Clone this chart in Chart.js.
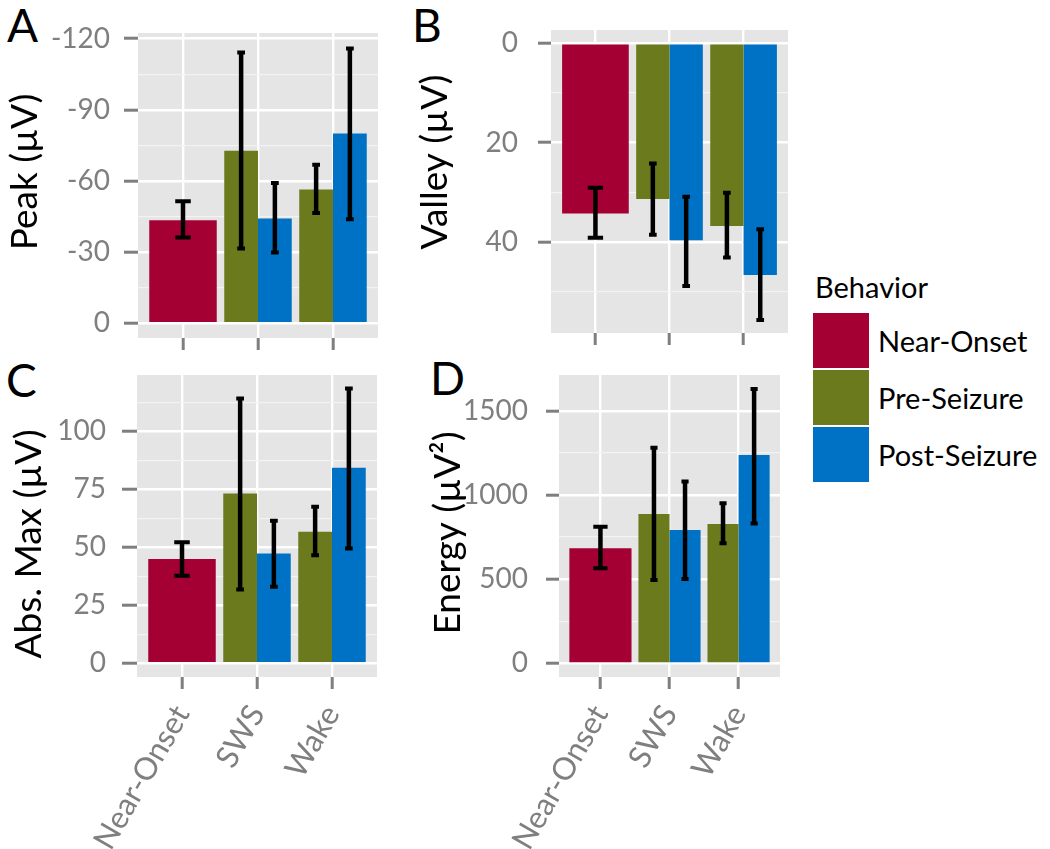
<!DOCTYPE html>
<html>
<head>
<meta charset="utf-8">
<script src="https://cdn.jsdelivr.net/npm/chart.js"></script>
<style>
  body { margin: 0; background: #fff; width: 1050px; height: 849px; position: relative; overflow: hidden; font-family: Lato, sans-serif; }
  .box { position: absolute; }
  .letter { position: absolute; font-size: 46px; line-height: 1; color: #000; }
  #legend { position: absolute; left: 813px; top: 272px; }
  #legend .ttl { font-size: 29px; line-height: 1; margin: 0 0 12px 2px; color: #000; }
  #legend .row { display: flex; align-items: center; height: 55px; margin-bottom: 2px; }
  #legend .key { width: 56px; height: 55px; }
  #legend .lab { font-size: 29px; line-height: 1; margin-left: 9px; color: #000; }
</style>
</head>
<body>

<div class="letter" style="left:7px;top:2px">A</div>
<div class="letter" style="left:412px;top:2px">B</div>
<div class="letter" style="left:6px;top:357px">C</div>
<div class="letter" style="left:430px;top:355px">D</div>

<div class="box" style="left:0;top:0"><canvas id="cA" width="395" height="395"></canvas></div>
<div class="box" style="left:400px;top:0"><canvas id="cB" width="395" height="395"></canvas></div>
<div class="box" style="left:0;top:360px"><canvas id="cC" width="395" height="489"></canvas></div>
<div class="box" style="left:400px;top:360px"><canvas id="cD" width="395" height="489"></canvas></div>

<div id="legend"><div class="ttl">Behavior</div></div>

<script>
// categories on x, one series per behaviour
const categories = ['Near-Onset', 'SWS', 'Wake'];
const series = ['Near-Onset', 'Pre-Seizure', 'Post-Seizure'];
const colors = ['#A50034', '#6B7A1C', '#0072C6'];

// rows = series, columns = categories (null = no bar)
const peakMean = [[-43.5, null, null], [null, -72.7, -56.4], [null, -44.2, -80.0]];
const peakLow  = [[-36.2, null, null], [null, -31.5, -46.5], [null, -29.8, -43.9]];
const peakHigh = [[-51.5, null, null], [null, -114.2, -66.9], [null, -59.2, -115.9]];

const valleyMean = [[34.3, null, null], [null, 31.4, 36.8], [null, 39.7, 46.7]];
const valleyLow  = [[29.1, null, null], [null, 24.2, 30.1], [null, 30.9, 37.5]];
const valleyHigh = [[39.2, null, null], [null, 38.6, 43.2], [null, 48.9, 55.8]];

const absMean = [[44.9, null, null], [null, 73.2, 56.7], [null, 47.3, 84.2]];
const absLow  = [[37.7, null, null], [null, 31.8, 46.6], [null, 33.0, 49.5]];
const absHigh = [[52.1, null, null], [null, 114.1, 67.4], [null, 61.4, 118.4]];

const energyMean = [[683, null, null], [null, 887, 827], [null, 792, 1237]];
const energyLow  = [[564, null, null], [null, 495, 713], [null, 501, 831]];
const energyHigh = [[811, null, null], [null, 1280, 950], [null, 1079, 1629]];

// tick labels
const peakTicks = [0, -30, -60, -90, -120];
const peakMinor = [-15, -45, -75, -105];
const valleyTicks = [0, 20, 40];
const valleyMinor = [10, 30, 50];
const absTicks = [0, 25, 50, 75, 100];
const absMinor = [12.5, 37.5, 62.5, 87.5, 112.5];
const energyTicks = [0, 500, 1000, 1500];
const energyMinor = [250, 750, 1250];

const GREY = '#7F7F7F';

const panelBg = {
  id: 'panelBg',
  beforeDraw(chart) {
    const a = chart.chartArea, ctx = chart.ctx;
    ctx.save();
    ctx.fillStyle = '#E5E5E5';
    ctx.fillRect(a.left, a.top, a.right - a.left, a.bottom - a.top);
    ctx.restore();
  }
};

const errBars = {
  id: 'errBars',
  afterDatasetsDraw(chart) {
    const ctx = chart.ctx, y = chart.scales.y;
    ctx.save();
    ctx.strokeStyle = '#000';
    chart.data.datasets.forEach((ds, i) => {
      const meta = chart.getDatasetMeta(i);
      meta.data.forEach((bar, j) => {
        if (ds.errLow[j] == null) return;
        const y1 = y.getPixelForValue(ds.errLow[j]);
        const y2 = y.getPixelForValue(ds.errHigh[j]);
        const cap = bar.width * 0.115;
        ctx.lineWidth = 4.5;
        ctx.beginPath();
        ctx.moveTo(bar.x, y1); ctx.lineTo(bar.x, y2);
        ctx.stroke();
        ctx.lineWidth = 4;
        ctx.beginPath();
        ctx.moveTo(bar.x - cap, y1); ctx.lineTo(bar.x + cap, y1);
        ctx.moveTo(bar.x - cap, y2); ctx.lineTo(bar.x + cap, y2);
        ctx.stroke();
      });
    });
    ctx.restore();
  }
};

function yTitle(text, x, y) {
  return {
    id: 'yTitle',
    afterDraw(chart) {
      const ctx = chart.ctx;
      ctx.save();
      ctx.translate(x, y);
      ctx.rotate(-Math.PI / 2);
      ctx.font = '37px Lato';
      ctx.fillStyle = '#000';
      ctx.textAlign = 'center';
      ctx.textBaseline = 'middle';
      ctx.fillText(text, 0, 0);
      ctx.restore();
    }
  };
}

function makePanel(id, p) {
  const datasets = series.map((name, i) => ({
    label: name,
    data: categories.map((c, j) => ({ x: j, y: p.mean[i][j] })),
    errLow: p.low[i],
    errHigh: p.high[i],
    backgroundColor: colors[i],
    borderWidth: 0,
    skipNull: true,
    categoryPercentage: 0.9,
    barPercentage: 1.0
  }));
  const isMajor = v => p.ticks.includes(v);
  new Chart(document.getElementById(id), {
    type: 'bar',
    data: { datasets },
    options: {
      responsive: false,
      animation: false,
      layout: { padding: { left: 0, top: p.top, right: p.right, bottom: 0 } },
      plugins: { legend: { display: false }, tooltip: { enabled: false } },
      scales: {
        x: {
          type: 'linear',
          min: -0.6, max: 2.6,
          offset: false,
          border: { display: false },
          afterBuildTicks: s => { s.ticks = categories.map((c, j) => ({ value: j })); },
          afterFit: s => { s.height = p.xh; s.paddingLeft = 0; s.paddingRight = 0; },
          grid: { color: '#fff', lineWidth: 2.4, offset: false, tickColor: GREY, tickWidth: 3, tickLength: 12 },
          ticks: {
            callback: v => p.showX ? categories[v] : '',
            autoSkip: false, minRotation: 60, maxRotation: 60,
            color: GREY, font: { family: 'Lato', size: 31 }, padding: 10
          }
        },
        y: {
          type: 'linear',
          reverse: p.reverse,
          min: p.min, max: p.max,
          border: { display: false },
          afterBuildTicks: s => { s.ticks = p.ticks.concat(p.minor).map(v => ({ value: v })); },
          afterFit: s => { s.width = p.yw; s.paddingTop = 0; s.paddingBottom = 0; },
          grid: {
            color: c => (c.tick && !isMajor(c.tick.value)) ? '#F3F3F3' : '#fff',
            lineWidth: c => (c.tick && !isMajor(c.tick.value)) ? 1.2 : 2.4,
            tickColor: c => (c.tick && !isMajor(c.tick.value)) ? 'rgba(0,0,0,0)' : GREY,
            tickWidth: 3,
            tickLength: p.tl
          },
          ticks: {
            callback: v => isMajor(v) ? String(v) : '',
            autoSkip: false,
            color: GREY, font: { family: 'Lato', size: 28 }, padding: p.tp
          }
        }
      }
    },
    plugins: [panelBg, errBars, yTitle(p.title, p.tx, p.ty)]
  });
}

makePanel('cA', { mean: peakMean, low: peakLow, high: peakHigh, ticks: peakTicks, minor: peakMinor,
  reverse: true, min: -122.4, max: 6.2, top: 33, right: 17, yw: 138, xh: 57, tl: 14, tp: 14,
  showX: false, title: 'Peak (µV)', tx: 25, ty: 172 });
makePanel('cB', { mean: valleyMean, low: valleyLow, high: valleyHigh, ticks: valleyTicks, minor: valleyMinor,
  reverse: true, min: -2.7, max: 58.4, top: 30, right: 7, yw: 151, xh: 62, tl: 13, tp: 20,
  showX: false, title: 'Valley (µV)', tx: 35, ty: 162 });
makePanel('cC', { mean: absMean, low: absLow, high: absHigh, ticks: absTicks, minor: absMinor,
  reverse: false, min: -5.9, max: 124.2, top: 15, right: 18, yw: 137, xh: 172, tl: 15, tp: 16,
  showX: true, title: 'Abs. Max (µV)', tx: 29, ty: 184 });
makePanel('cD', { mean: energyMean, low: energyLow, high: energyHigh, ticks: energyTicks, minor: energyMinor,
  reverse: false, min: -81, max: 1712, top: 15, right: 15, yw: 159, xh: 172, tl: 13, tp: 18,
  showX: true, title: 'Energy (µV²)', tx: 48, ty: 173 });

// shared legend
const legend = document.getElementById('legend');
series.forEach((name, i) => {
  const row = document.createElement('div');
  row.className = 'row';
  row.innerHTML = '<div class="key" style="background:' + colors[i] + '"></div><div class="lab">' + name + '</div>';
  legend.appendChild(row);
});
</script>
</body>
</html>
